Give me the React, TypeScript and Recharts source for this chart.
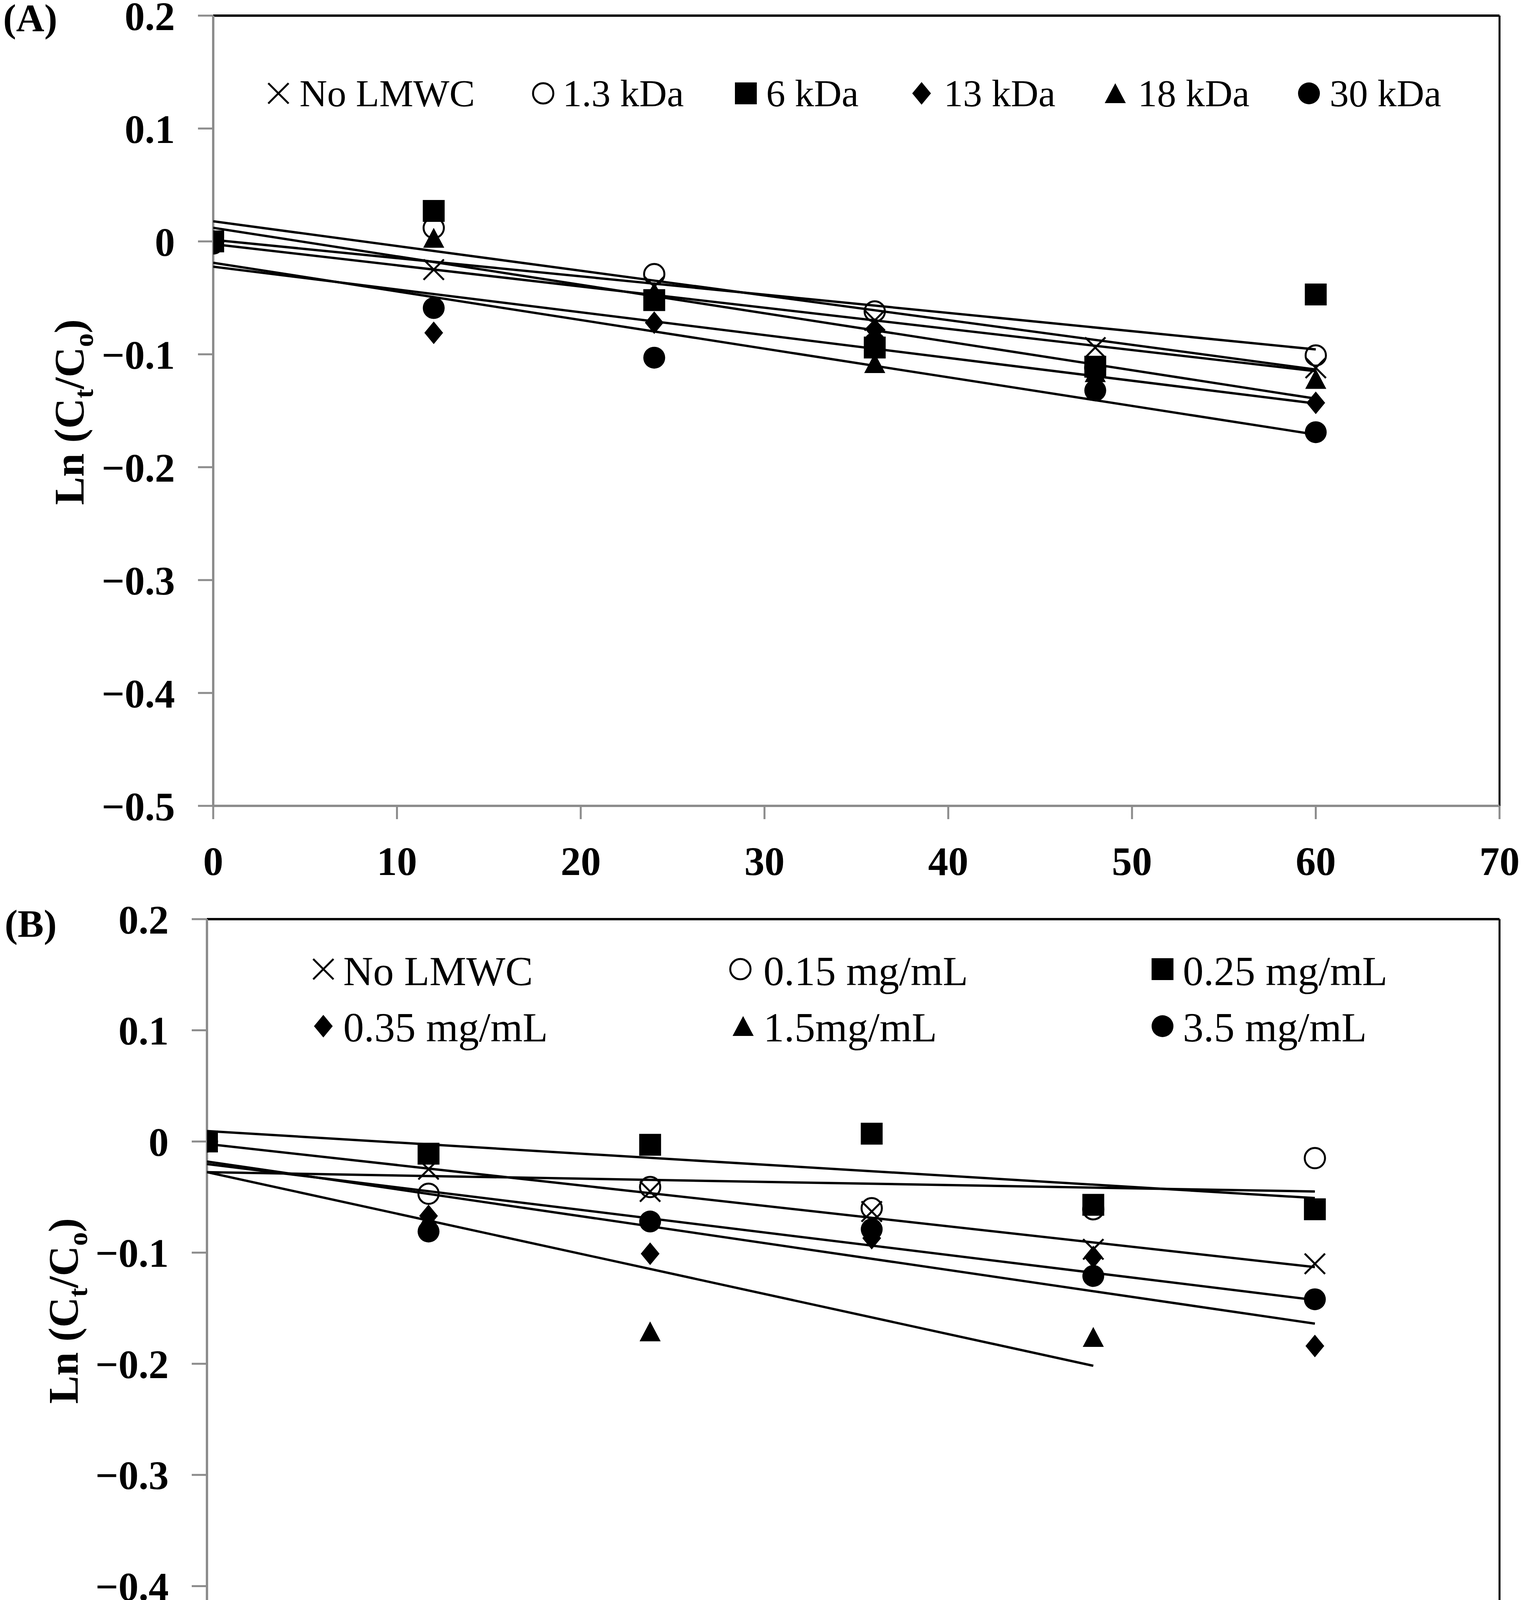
import React from "react";
import { ScatterChart, Scatter, XAxis, YAxis, ReferenceLine } from "recharts";

const FONT = "'Liberation Serif', 'Times New Roman', Times, serif";
const GRAY = "#8c8c8c";

// time points (h)
const times = [0, 12, 24, 36, 48, 60];
const xTicks = [0, 10, 20, 30, 40, 50, 60, 70];
const yTicks = [-0.5, -0.4, -0.3, -0.2, -0.1, 0, 0.1, 0.2];

// Panel A: molecular weight of LMWC
const aNames = ["No LMWC", "1.3 kDa", "6 kDa", "13 kDa", "18 kDa", "30 kDa"];
const aNoLMWC = [0, -0.025, -0.040, -0.070, -0.094, -0.112];
const a13kDa1 = [0, 0.012, -0.029, -0.062, -0.112, -0.101];
const a6kDa = [0, 0.027, -0.052, -0.094, -0.111, -0.047];
const a13kDa = [0, -0.081, -0.072, -0.078, -0.120, -0.143];
const a18kDa = [0, 0.003, -0.045, -0.108, -0.116, -0.122];
const a30kDa = [-0.002, -0.059, -0.103, -0.090, -0.132, -0.169];
// trend lines of panel A (value at t = 0 and at the last time point)
const aTrendStart = [-0.0024, 0.0178, 0.0014, -0.0224, 0.012, -0.0189];
const aTrendEnd = [-0.115, -0.1135, -0.0957, -0.1436, -0.1393, -0.1711];
const aTrendEndT = [60, 60, 60, 60, 60, 60];

// Panel B: LMWC concentration
const bNames = ["No LMWC", "0.15 mg/mL", "0.25 mg/mL", "0.35 mg/mL", "1.5mg/mL", "3.5 mg/mL"];
const bNoLMWC = [0, -0.025, -0.045, -0.063, -0.097, -0.110];
const b015 = [0, -0.047, -0.041, -0.060, -0.061, -0.015];
const b025 = [0, -0.011, -0.003, 0.007, -0.057, -0.061];
const b035 = [0, -0.067, -0.101, -0.087, -0.104, -0.184];
const b15 = [0, -0.070, -0.171, null, -0.176, null];
const b35 = [0, -0.081, -0.072, -0.079, -0.121, -0.142];
const bTrendStart = [-0.0022, -0.0276, 0.0094, -0.018, -0.0276, -0.0203];
const bTrendEnd = [-0.113, -0.045, -0.0509, -0.1639, -0.2018, -0.1426];
const bTrendEndT = [60, 60, 60, 60, 48, 60];

const kinds = ["x", "circleOpen", "square", "diamond", "triangle", "circle"];

type Kind = string;

function Marker({ kind, cx, cy }: { kind: Kind; cx: number; cy: number }) {
  if (cx == null || cy == null || isNaN(cx) || isNaN(cy)) return <g />;
  switch (kind) {
    case "x": {
      const s = 26;
      return (
        <g>
          <line x1={cx - s} y1={cy - s} x2={cx + s} y2={cy + s} stroke="#000" strokeWidth={5} />
          <line x1={cx - s} y1={cy + s} x2={cx + s} y2={cy - s} stroke="#000" strokeWidth={5} />
        </g>
      );
    }
    case "circleOpen":
      return <circle cx={cx} cy={cy} r={26} fill="none" stroke="#000" strokeWidth={5} />;
    case "square":
      return <rect x={cx - 28} y={cy - 28} width={56} height={56} fill="#000" />;
    case "diamond":
      return (
        <polygon
          points={`${cx},${cy - 29} ${cx + 24},${cy} ${cx},${cy + 29} ${cx - 24},${cy}`}
          fill="#000"
        />
      );
    case "triangle":
      return (
        <polygon
          points={`${cx},${cy - 26} ${cx + 27},${cy + 25} ${cx - 27},${cy + 25}`}
          fill="#000"
        />
      );
    case "circle":
    default:
      return <circle cx={cx} cy={cy} r={28} fill="#000" />;
  }
}

const toPoints = (vals: (number | null)[]) =>
  times
    .map((t, i) => ({ t, v: vals[i] }))
    .filter((p) => p.v !== null && p.v !== undefined);

const fmtY = (v: number) => {
  if (Math.abs(v) < 1e-9) return "0";
  return (v < 0 ? "\u2212" : "") + Math.abs(v).toFixed(1);
};

const tickStyle = { fill: "#000", fontSize: 103, fontWeight: 700, fontFamily: FONT };

const EmptyShape = () => <g />;

function Panel({
  series,
  trendStart,
  trendEnd,
  trendEndT,
  width,
  height,
  margin,
}: {
  series: (number | null)[][];
  trendStart: number[];
  trendEnd: number[];
  trendEndT: number[];
  width: number;
  height: number;
  margin: { top: number; right: number; bottom: number; left: number };
}) {
  return (
    <ScatterChart width={width} height={height} margin={margin}>
      <XAxis
        type="number"
        dataKey="t"
        domain={[0, 70]}
        ticks={xTicks}
        interval={0}
        allowDataOverflow
        height={100}
        axisLine={{ stroke: GRAY, strokeWidth: 6 }}
        tickLine={{ stroke: GRAY, strokeWidth: 5 }}
        tickSize={34}
        tickMargin={70}
        tick={tickStyle}
      />
      <YAxis
        type="number"
        dataKey="v"
        domain={[-0.5, 0.2]}
        ticks={yTicks}
        interval={0}
        allowDataOverflow
        width={100}
        axisLine={{ stroke: GRAY, strokeWidth: 6 }}
        tickLine={{ stroke: GRAY, strokeWidth: 5 }}
        tickSize={39}
        tickMargin={59}
        tick={tickStyle}
        tickFormatter={fmtY}
      />
      <ReferenceLine y={0.2} stroke="#000" strokeWidth={6} />
      <ReferenceLine x={70} stroke="#000" strokeWidth={5} />
      {series.map((vals, i) => (
        <Scatter
          key={"s" + i}
          data={toPoints(vals)}
          isAnimationActive={false}
          shape={(p: any) => <Marker kind={kinds[i]} cx={p.cx} cy={p.cy} />}
        />
      ))}
      {trendStart.map((a, i) => (
        <Scatter
          key={"tr" + i}
          data={[
            { t: 0, v: a },
            { t: trendEndT[i], v: trendEnd[i] },
          ]}
          isAnimationActive={false}
          shape={EmptyShape}
          line={{ stroke: "#000", strokeWidth: 6 }}
          lineType="joint"
        />
      ))}
    </ScatterChart>
  );
}

function YLabel({ x, y }: { x: number; y: number }) {
  return (
    <text
      transform={`translate(${x},${y}) rotate(-90)`}
      textAnchor="middle"
      fontFamily={FONT}
      fontWeight={700}
      fontSize={108}
      fill="#000"
    >
      <tspan>Ln (C</tspan>
      <tspan fontSize={70} dy={24}>t</tspan>
      <tspan dy={-24}>/C</tspan>
      <tspan fontSize={70} dy={24}>o</tspan>
      <tspan dy={-24}>)</tspan>
    </text>
  );
}

function LegendItem({
  kind,
  cx,
  cy,
  tx,
  ty,
  label,
  fontSize,
}: {
  kind: Kind;
  cx: number;
  cy: number;
  tx: number;
  ty: number;
  label: string;
  fontSize: number;
}) {
  return (
    <g>
      <Marker kind={kind} cx={cx} cy={cy} />
      <text x={tx} y={ty} fontFamily={FONT} fontSize={fontSize} fill="#000">
        {label}
      </text>
    </g>
  );
}

// legend layout (positions only)
const aLegendMarkerX = [713, 1391, 1910, 2360, 2856, 3352];
const aLegendTextX = [767, 1441, 1962, 2417, 2914, 3405];
const bLegendMarkerX = [828, 1896, 2977, 828, 1903, 2977];
const bLegendTextX = [879, 1955, 3029, 879, 1955, 3029];
const bLegendRow = [0, 0, 0, 1, 1, 1];

export default function App() {
  const W = 3895;
  const H = 4664;
  return (
    <div
      style={{
        position: "absolute",
        left: 0,
        top: 0,
        width: W,
        height: H,
        background: "#fff",
        overflow: "hidden",
      }}
    >
      <div style={{ position: "absolute", left: 0, top: 0 }}>
        <Panel
          series={[aNoLMWC, a13kDa1, a6kDa, a13kDa, a18kDa, a30kDa]}
          trendStart={aTrendStart}
          trendEnd={aTrendEnd}
          trendEndT={aTrendEndT}
          width={W}
          height={2300}
          margin={{ top: 40, right: 55, bottom: 137, left: 446 }}
        />
      </div>
      <div style={{ position: "absolute", left: 0, top: 2300 }}>
        <Panel
          series={[bNoLMWC, b015, b025, b035, b15, b35]}
          trendStart={bTrendStart}
          trendEnd={bTrendEnd}
          trendEndT={bTrendEndT}
          width={W}
          height={2364}
          margin={{ top: 53, right: 55, bottom: 219, left: 430 }}
        />
      </div>
      <svg
        width={W}
        height={H}
        style={{ position: "absolute", left: 0, top: 0, pointerEvents: "none" }}
      >
        <text x={8} y={80} fontFamily={FONT} fontWeight={700} fontSize={100} fill="#000">
          (A)
        </text>
        <text x={12} y={2398} fontFamily={FONT} fontWeight={700} fontSize={100} fill="#000">
          (B)
        </text>
        <YLabel x={214} y={1055} />
        <YLabel x={199} y={3356} />
        <text
          x={2180}
          y={4636}
          textAnchor="middle"
          fontFamily={FONT}
          fontWeight={700}
          fontSize={106}
          fill="#000"
        >
          Time (h)
        </text>
        {aNames.map((name, i) => (
          <LegendItem
            key={"la" + i}
            kind={kinds[i]}
            cx={aLegendMarkerX[i]}
            cy={239}
            tx={aLegendTextX[i]}
            ty={272}
            label={name}
            fontSize={98}
          />
        ))}
        {bNames.map((name, i) => (
          <LegendItem
            key={"lb" + i}
            kind={kinds[i]}
            cx={bLegendMarkerX[i]}
            cy={bLegendRow[i] === 0 ? 2481 : 2627}
            tx={bLegendTextX[i]}
            ty={bLegendRow[i] === 0 ? 2522 : 2666}
            label={name}
            fontSize={106}
          />
        ))}
      </svg>
    </div>
  );
}
